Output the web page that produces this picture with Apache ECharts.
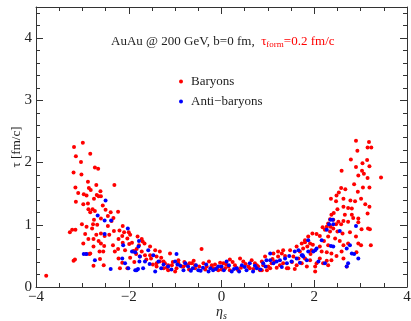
<!DOCTYPE html>
<html>
<head>
<meta charset="utf-8">
<script src="https://cdn.jsdelivr.net/npm/echarts@6/dist/echarts.min.js"></script>
<style>
  html, body { margin: 0; padding: 0; background: #fff; }
  #chart { width: 411px; height: 321px; }
</style>
</head>
<body>
<div id="chart"></div>
<script>
// eta_s / tau points
var baryons = [
  [-3.78,0.18],
  [-2.99,2.32],[-3.18,2.25],[-3.14,2.10],[-2.83,2.14],[-3.03,2.01],[-2.73,1.92],[-2.66,1.90],[-3.19,1.84],[-3.02,1.81],
  [-2.88,1.69],[-2.70,1.64],[-3.15,1.60],[-2.31,1.64],[-2.86,1.59],[-2.82,1.56],[-3.09,1.51],[-2.61,1.54],[-2.97,1.49],
  [-2.91,1.47],[-2.69,1.48],[-2.75,1.42],[-2.65,1.46],[-2.60,1.46],[-3.14,1.37],[-2.98,1.33],[-2.88,1.34],[-2.56,1.31],
  [-2.87,1.25],[-2.78,1.25],[-2.50,1.24],[-2.83,1.20],[-2.73,1.22],[-2.39,1.20],[-2.23,1.21],[-2.45,1.14],[-2.33,1.11],
  [-2.60,1.10],[-2.75,1.08],[-2.37,1.06],[-3.01,1.01],[-2.77,1.01],[-2.68,1.00],[-2.13,0.98],[-2.45,0.98],[-2.91,0.97],
  [-2.79,0.94],[-3.22,0.92],[-3.15,0.92],[-3.27,0.88],[-2.32,0.90],[-2.20,0.91],[-2.10,0.88],[-2.00,0.88],[-2.60,0.86],
  [-2.70,0.84],[-2.94,0.85],[-2.52,0.82],[-2.42,0.84],[-2.14,0.82],[-2.76,0.77],[-2.65,0.74],[-2.22,0.77],[-2.03,0.78],
  [-2.87,0.77],[-2.98,0.70],[-2.60,0.70],[-2.34,0.67],[-2.13,0.71],[-2.53,0.66],[-2.76,0.65],[-1.99,0.69],[-2.23,0.61],
  [-2.08,0.59],[-2.63,0.57],[-2.55,0.57],[-2.83,0.54],[-2.30,0.57],[-1.89,0.58],[-1.84,0.53],[-2.22,0.46],[-1.97,0.47],
  [-3.16,0.44],[-3.19,0.42],[-2.62,0.45],[-2.14,0.39],[-2.76,0.34],[-2.54,0.35],[-2.19,0.30],[-2.03,0.30],[-2.92,0.53],
  [-2.85,0.53],
  [-1.81,0.81],[-1.72,0.77],[-1.78,0.67],[-1.66,0.70],[-1.83,0.61],[-1.72,0.57],[-1.65,0.51],[-1.54,0.65],[-1.43,0.59],
  [-1.52,0.46],[-1.40,0.49],[-1.33,0.41],[-1.22,0.38],[-1.07,0.35],[-0.93,0.43],[-0.86,0.33],[-0.75,0.35],[-0.64,0.38],
  [-0.57,0.30],[-0.43,0.61],[-0.39,0.38],[-0.32,0.33],[-0.21,0.35],[-0.10,0.30],[-0.03,0.39],[-1.15,0.27],[-1.25,0.30],
  [-1.00,0.25],[-1.40,0.33],[-1.11,0.54],[-1.33,0.57],[-1.97,0.84],[-1.70,0.73],[-1.90,0.57],[-1.76,0.49],[-1.54,0.51],
  [-1.40,0.38],[-1.25,0.41],[-1.15,0.35],[-0.93,0.38],[-0.82,0.33],[-0.69,0.38],[-0.57,0.35],[-0.18,0.30],[-0.07,0.27],
  [-1.62,0.44],[-1.48,0.36],[-1.30,0.47],[-1.18,0.31],[-1.05,0.40],[-0.97,0.30],[-0.80,0.40],[-0.70,0.28],[-0.60,0.42],
  [-0.48,0.33],[-0.35,0.28],[-0.27,0.41],[-0.14,0.36],[-1.88,0.40],[-1.93,0.71],
  [0.04,0.38],[0.15,0.33],[0.29,0.35],[0.36,0.27],[0.47,0.41],[0.58,0.33],[0.65,0.43],[0.72,0.38],[0.79,0.33],
  [0.87,0.41],[0.94,0.49],[1.01,0.33],[1.08,0.38],[1.12,0.54],[1.22,0.49],[1.30,0.54],[1.33,0.38],[1.44,0.30],
  [1.48,0.59],[1.55,0.49],[1.62,0.65],[1.69,0.57],[1.73,0.70],[1.80,0.75],[1.85,0.65],[1.87,0.81],[1.80,0.46],
  [1.62,0.35],[0.40,0.46],[0.18,0.44],[0.08,0.30],[0.83,0.27],[1.26,0.35],[0.18,0.27],[0.33,0.30],[0.61,0.30],
  [0.76,0.35],[0.87,0.27],[1.05,0.30],[1.15,0.41],[1.22,0.57],[1.33,0.59],[1.41,0.30],
  [0.00,0.28],[0.10,0.36],[0.24,0.40],[0.42,0.31],[0.52,0.37],[0.69,0.29],[0.90,0.35],[0.98,0.27],[1.10,0.45],
  [1.19,0.31],[1.37,0.50],[1.52,0.40],[1.58,0.29],[1.66,0.46],[1.92,0.53],[1.97,0.68],
  [2.90,2.35],[3.18,2.33],[2.93,2.19],[3.15,2.24],[3.23,2.24],[2.79,2.05],[3.14,2.04],[3.04,1.99],[2.90,1.93],
  [3.19,1.94],[2.59,1.87],[3.03,1.87],[3.07,1.82],[2.95,1.79],[3.15,1.75],[3.44,1.76],[2.86,1.65],[3.05,1.60],
  [3.19,1.60],[2.58,1.59],[2.67,1.57],[2.53,1.52],[2.94,1.53],[2.48,1.47],[2.36,1.42],[2.63,1.42],[3.01,1.42],
  [2.47,1.38],[2.78,1.39],[2.88,1.38],[3.10,1.33],[3.19,1.29],[2.63,1.29],[2.73,1.27],[2.81,1.26],[2.50,1.25],
  [3.15,1.18],[2.42,1.19],[2.37,1.16],[2.66,1.16],[2.81,1.16],[2.84,1.11],[2.34,1.09],[2.41,1.08],[2.52,1.05],
  [2.63,1.06],[2.95,1.10],[2.95,1.04],[2.30,1.02],[2.47,1.01],[2.58,1.01],[2.73,1.05],[2.27,0.97],[2.35,0.97],
  [2.18,0.96],[3.16,0.94],[3.20,0.93],[2.41,0.94],[3.02,0.93],[2.23,0.92],[2.34,0.89],[2.50,0.89],[2.61,0.86],
  [2.77,0.88],[2.90,0.81],[1.96,0.86],[2.05,0.85],[2.12,0.82],[2.30,0.81],[2.45,0.78],[2.55,0.74],[2.21,0.74],
  [1.80,0.72],[1.91,0.70],[2.30,0.67],[2.12,0.65],[2.63,0.67],[2.73,0.70],[2.95,0.70],[3.01,0.67],[3.22,0.67],
  [1.76,0.62],[1.94,0.59],[2.16,0.57],[2.27,0.56],[2.37,0.54],[2.59,0.57],[2.91,0.56],[2.48,0.50],[2.63,0.46],
  [2.12,0.46],[2.27,0.42],[2.37,0.43],[1.91,0.43],[2.05,0.38],[2.19,0.38],[2.02,0.33],[2.30,0.35],[2.70,0.33],
  [1.84,0.33],[2.02,0.25],[1.73,0.38]
];

var antiBaryons = [
  [-2.50,1.39],[-2.67,1.15],[-2.52,1.07],[-2.38,1.07],[-2.02,0.94],[-2.52,0.85],[-2.97,0.53],[-2.91,0.53],[-1.78,0.74],
  [-2.12,0.67],[-1.93,0.57],[-1.86,0.56],[-2.14,0.46],[-2.73,0.43],[-2.08,0.38],[-2.39,0.29],[-2.01,0.30],[-1.86,0.27],
  [-1.80,0.29],[-1.77,0.41],
  [-1.79,0.65],[-1.76,0.49],[-1.83,0.27],[-1.69,0.30],[-1.58,0.59],[-1.47,0.51],[-1.36,0.41],[-1.15,0.33],[-1.00,0.41],
  [-0.89,0.34],[-0.82,0.27],[-0.72,0.33],[-0.50,0.27],[-0.28,0.25],[-0.18,0.27],[-0.07,0.33],[-0.97,0.53],[-1.65,0.41],
  [-1.43,0.25],[-1.25,0.36],[-0.62,0.30],[-0.40,0.31],
  [-1.55,0.37],[-1.30,0.30],[-1.08,0.28],[-0.95,0.36],[-0.78,0.38],[-0.66,0.26],[-0.55,0.35],[-0.45,0.26],[-0.33,0.36],
  [-0.24,0.30],[-0.12,0.29],
  [0.00,0.33],[0.11,0.41],[0.22,0.25],[0.33,0.30],[0.44,0.35],[0.54,0.27],[0.61,0.38],[0.76,0.30],[0.90,0.38],
  [0.97,0.43],[1.05,0.43],[1.12,0.38],[1.19,0.41],[1.37,0.46],[1.41,0.38],[1.51,0.41],[1.58,0.57],[1.66,0.59],
  [1.75,0.51],[1.84,0.43],[1.87,0.57],[1.05,0.54],[0.68,0.25],
  [0.05,0.27],[0.16,0.35],[0.27,0.29],[0.38,0.25],[0.50,0.32],[0.72,0.34],[0.84,0.28],[0.95,0.33],[1.26,0.43],
  [1.30,0.32],[1.46,0.50],[1.62,0.46],[1.69,0.39],
  [2.35,1.08],[2.40,1.08],[2.32,1.01],[2.41,1.01],[2.90,0.98],[2.27,0.92],[2.55,0.90],[1.87,0.75],[2.16,0.75],
  [2.36,0.66],[2.41,0.65],[2.77,0.67],[2.70,0.62],[2.81,0.54],[2.86,0.53],[2.95,0.46],[2.73,0.38],[2.70,0.33],
  [2.02,0.59],[2.05,0.62],[1.73,0.51],[1.76,0.49],[2.09,0.41],[2.23,0.38],[1.98,0.57]
];

var xTicks = [-4, -2, 0, 2, 4];
var yTicks = [0, 1, 2, 3, 4];

var serif = '"Liberation Serif", "DejaVu Serif", serif';
var chart = echarts.init(document.getElementById('chart'));

function fmt(v) {
  return String(v).replace('-', '\u2212');
}
var lineStyle = { color: '#333', width: 1 };

// frame axes: labelled major ones plus bare copies for the opposite side / minor ticks
function xAxisDef(pos, major) {
  return {
    type: 'value', position: pos, min: -4, max: 4,
    interval: major ? 2 : 0.5,
    axisLine: { show: major, onZero: false, lineStyle: lineStyle },
    axisTick: { show: true, inside: true, length: major ? 7 : 4, lineStyle: lineStyle },
    axisLabel: {
      show: major && pos === 'bottom', margin: 3,
      color: '#222', fontFamily: serif, fontSize: 15,
      formatter: function (v) { return xTicks.indexOf(v) >= 0 ? fmt(v) : ''; }
    },
    splitLine: { show: false }
  };
}
function yAxisDef(pos, major) {
  return {
    type: 'value', position: pos, min: 0, max: 4.5,
    interval: major ? 1 : 0.2,
    axisLine: { show: major, onZero: false, lineStyle: lineStyle },
    axisTick: { show: true, inside: true, length: major ? 7 : 4, lineStyle: lineStyle },
    axisLabel: {
      show: major && pos === 'left', margin: 4,
      color: '#222', fontFamily: serif, fontSize: 15,
      formatter: function (v) { return yTicks.indexOf(v) >= 0 ? fmt(v) : ''; }
    },
    splitLine: { show: false }
  };
}

var xAxes = [xAxisDef('bottom', true), xAxisDef('bottom', false), xAxisDef('top', true), xAxisDef('top', false)];
var yAxes = [yAxisDef('left', true), yAxisDef('left', false), yAxisDef('right', true), yAxisDef('right', false)];

xAxes[0].name = '\u03b7{sub|s}';
xAxes[0].nameLocation = 'middle';
xAxes[0].nameGap = 16;
xAxes[0].nameMoveOverlap = false;
xAxes[0].nameTextStyle = {
  color: '#222', fontFamily: serif, fontSize: 14, fontStyle: 'italic',
  rich: { sub: { fontFamily: serif, fontSize: 10, fontStyle: 'italic', color: '#222', padding: [8, 0, 0, 0] } }
};
yAxes[0].name = '\u03c4 [fm/c]';
yAxes[0].nameLocation = 'middle';
yAxes[0].nameGap = 13;
yAxes[0].nameRotate = 90;
yAxes[0].nameMoveOverlap = false;
yAxes[0].nameTextStyle = { color: '#222', fontFamily: serif, fontSize: 13 };

chart.setOption({
  backgroundColor: '#fff',
  animation: false,
  grid: { left: 36, right: 4, top: 7, bottom: 34, outerBoundsMode: 'none', containLabel: false },
  title: {
    left: 106, top: 29,
    text: 'AuAu @ 200 GeV, b=0 fm,  {r|\u03c4}{rs|form}{r|=0.2 fm/c}',
    textStyle: {
      color: '#222', fontFamily: serif, fontSize: 13, fontWeight: 'normal',
      rich: {
        r: { color: '#ff0000', fontFamily: serif, fontSize: 13 },
        rs: { color: '#ff0000', fontFamily: serif, fontSize: 9, padding: [6, 0, 0, 0] }
      }
    }
  },
  legend: {
    orient: 'vertical', left: 174, top: 70, itemGap: 7,
    itemWidth: 10, itemHeight: 4, icon: 'circle',
    textStyle: { color: '#222', fontFamily: serif, fontSize: 13, padding: [0, 0, 0, 0] },
    data: ['Baryons', 'Anti\u2212baryons']
  },
  xAxis: xAxes,
  yAxis: yAxes,
  series: [
    {
      name: 'Baryons', type: 'scatter', xAxisIndex: 0, yAxisIndex: 0,
      symbolSize: 4, itemStyle: { color: '#ff0000', opacity: 1 },
      data: baryons
    },
    {
      name: 'Anti\u2212baryons', type: 'scatter', xAxisIndex: 0, yAxisIndex: 0,
      symbolSize: 4, itemStyle: { color: '#0000ff', opacity: 1 },
      data: antiBaryons
    }
  ]
});
</script>
</body>
</html>
